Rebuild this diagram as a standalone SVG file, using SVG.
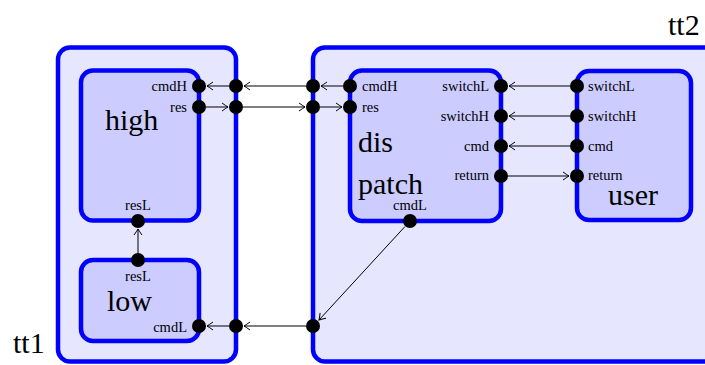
<svg xmlns="http://www.w3.org/2000/svg" width="705" height="365" viewBox="0 0 705 365">
  <style>
    .outer { fill: #e6e6ff; stroke: #0000ff; stroke-width: 4.5; }
    .inner { fill: #ccccff; stroke: #0000ff; stroke-width: 4.5; }
    .port { fill: #000; }
    .big { font-size: 30px; fill: #000; }
    .lbl { font-size: 14.5px; fill: #000; }
    .end { text-anchor: end; }
    .mid { text-anchor: middle; }
    .wire { stroke: #000; stroke-width: 1; fill: none; marker-end: url(#to); }
  </style>
  <defs>
    <marker id="to" viewBox="-8 -5 10 10" refX="0" refY="0" markerWidth="10" markerHeight="10" markerUnits="userSpaceOnUse" orient="auto">
      <path d="M -6 -4 Q -1.5 -0.8 0 0 Q -1.5 0.8 -6 4" fill="none" stroke="#000" stroke-width="1"/>
    </marker>
  </defs>

  <g font-family="'Liberation Serif', 'Times New Roman', 'DejaVu Serif', serif">
  <!-- container tt1 -->
  <g id="tt1">
    <rect class="outer" x="58" y="47.5" width="178" height="314" rx="12"/>
    <text class="big" x="13" y="353">tt1</text>
  </g>

  <!-- container tt2 -->
  <g id="tt2">
    <rect class="outer" x="313" y="47.5" width="420" height="314" rx="12"/>
    <text class="big" x="668" y="35">tt2</text>
  </g>

  <!-- component high -->
  <g id="high">
    <rect class="inner" x="81" y="70.5" width="118" height="150" rx="12"/>
    <text class="big" x="105" y="130">high</text>
    <text class="lbl end" x="187" y="91">cmdH</text>
    <text class="lbl end" x="187" y="112">res</text>
    <text class="lbl mid" x="138" y="210">resL</text>
  </g>

  <!-- component low -->
  <g id="low">
    <rect class="inner" x="81" y="260" width="118" height="81" rx="12"/>
    <text class="big" x="107" y="311">low</text>
    <text class="lbl mid" x="138" y="281">resL</text>
    <text class="lbl end" x="187" y="332">cmdL</text>
  </g>

  <!-- component dispatch -->
  <g id="dispatch">
    <rect class="inner" x="350" y="70.5" width="151" height="150.5" rx="12"/>
    <text class="big" x="358" y="152">dis</text>
    <text class="big" x="358" y="194">patch</text>
    <text class="lbl" x="362" y="91">cmdH</text>
    <text class="lbl" x="362" y="112">res</text>
    <text class="lbl end" x="489" y="91">switchL</text>
    <text class="lbl end" x="489" y="121">switchH</text>
    <text class="lbl end" x="489" y="151">cmd</text>
    <text class="lbl end" x="489" y="180">return</text>
    <text class="lbl mid" x="410" y="210">cmdL</text>
  </g>

  <!-- component user -->
  <g id="user">
    <rect class="inner" x="577" y="71" width="114" height="149" rx="12"/>
    <text class="big" x="608" y="205">user</text>
    <text class="lbl" x="588" y="91">switchL</text>
    <text class="lbl" x="588" y="121">switchH</text>
    <text class="lbl" x="588" y="151">cmd</text>
    <text class="lbl" x="588" y="180">return</text>
  </g>
  </g>

  <!-- connectors -->
  <g id="connectors">
    <!-- cmdH chain: dispatch -> tt2 -> tt1 -> high -->
    <line class="wire" x1="343" y1="86" x2="321" y2="86"/>
    <line class="wire" x1="306" y1="86" x2="244" y2="86"/>
    <line class="wire" x1="229" y1="86" x2="207" y2="86"/>
    <!-- res chain: high -> tt1 -> tt2 -> dispatch -->
    <line class="wire" x1="206" y1="107" x2="228" y2="107"/>
    <line class="wire" x1="243" y1="107" x2="305" y2="107"/>
    <line class="wire" x1="320" y1="107" x2="342" y2="107"/>
    <!-- user <-> dispatch -->
    <line class="wire" x1="570" y1="86" x2="509" y2="86"/>
    <line class="wire" x1="570" y1="116" x2="509" y2="116"/>
    <line class="wire" x1="570" y1="146" x2="509" y2="146"/>
    <line class="wire" x1="508" y1="176" x2="569" y2="176"/>
    <!-- resL: low -> high -->
    <line class="wire" x1="138" y1="253" x2="138" y2="229"/>
    <!-- cmdL chain: dispatch -> tt2 -> tt1 -> low -->
    <line class="wire" x1="405" y1="226.5" x2="319" y2="320"/>
    <line class="wire" x1="306" y1="326" x2="244" y2="326"/>
    <line class="wire" x1="229" y1="326" x2="207" y2="326"/>
  </g>

  <!-- port dots -->
  <g id="ports">
    <circle class="port" cx="199" cy="86" r="7"/>
    <circle class="port" cx="199" cy="107" r="7"/>
    <circle class="port" cx="236" cy="86" r="7"/>
    <circle class="port" cx="236" cy="107" r="7"/>
    <circle class="port" cx="313" cy="86" r="7"/>
    <circle class="port" cx="313" cy="107" r="7"/>
    <circle class="port" cx="350" cy="86" r="7"/>
    <circle class="port" cx="350" cy="107" r="7"/>
    <circle class="port" cx="501" cy="86" r="7"/>
    <circle class="port" cx="501" cy="116" r="7"/>
    <circle class="port" cx="501" cy="146" r="7"/>
    <circle class="port" cx="501" cy="176" r="7"/>
    <circle class="port" cx="577" cy="86" r="7"/>
    <circle class="port" cx="577" cy="116" r="7"/>
    <circle class="port" cx="577" cy="146" r="7"/>
    <circle class="port" cx="577" cy="176" r="7"/>
    <circle class="port" cx="138" cy="221" r="7"/>
    <circle class="port" cx="138" cy="260" r="7"/>
    <circle class="port" cx="410" cy="221" r="7"/>
    <circle class="port" cx="199" cy="326" r="7"/>
    <circle class="port" cx="236" cy="326" r="7"/>
    <circle class="port" cx="313" cy="326" r="7"/>
  </g>
</svg>
